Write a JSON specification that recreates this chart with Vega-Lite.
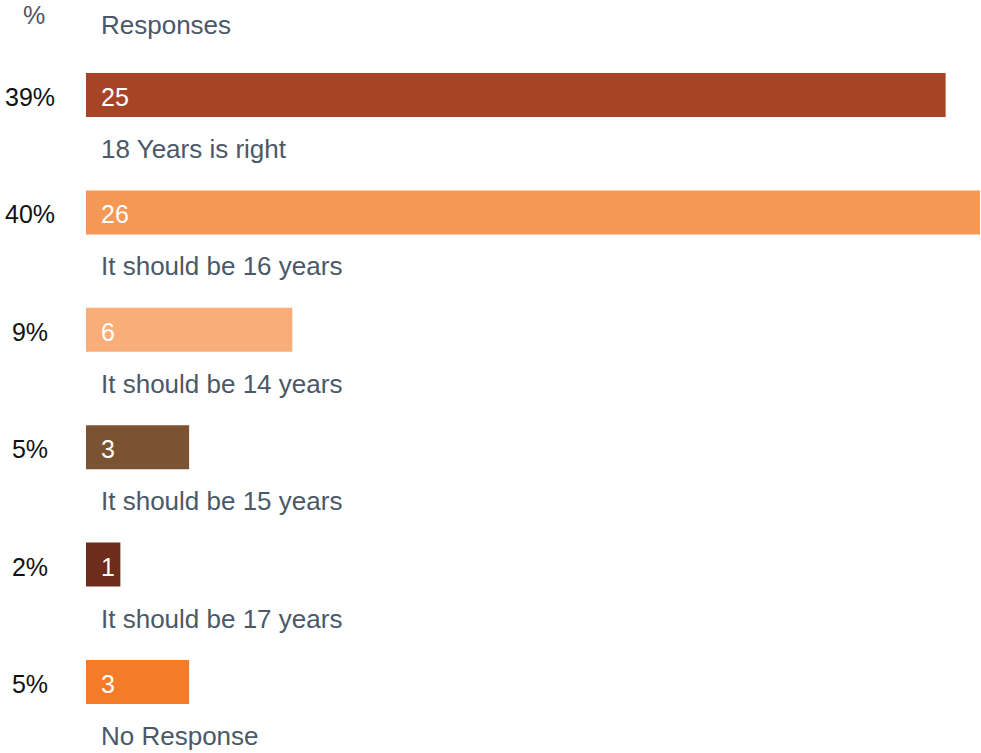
{
  "$schema": "https://vega.github.io/schema/vega-lite/v6.json",
  "width": 981,
  "height": 753,
  "autosize": "none",
  "padding": 0,
  "background": "white",
  "config": {"view": {"stroke": null}, "text": {"font": "Liberation Sans"}},
  "data": {
    "values": [
      {"answer": "18 Years is right", "count": 25, "pct": "39%"},
      {"answer": "It should be 16 years", "count": 26, "pct": "40%"},
      {"answer": "It should be 14 years", "count": 6, "pct": "9%"},
      {"answer": "It should be 15 years", "count": 3, "pct": "5%"},
      {"answer": "It should be 17 years", "count": 1, "pct": "2%"},
      {"answer": "No Response", "count": 3, "pct": "5%"}
    ]
  },
  "encoding": {
    "y": {
      "field": "answer", "type": "nominal",
      "sort": ["18 Years is right", "It should be 16 years", "It should be 14 years", "It should be 15 years", "It should be 17 years", "No Response"],
      "scale": {"range": [36.3, 740.7], "paddingInner": 0, "paddingOuter": 0},
      "axis": null
    }
  },
  "layer": [
    {
      "mark": {"type": "bar", "height": 44},
      "encoding": {
        "x": {"field": "count", "type": "quantitative", "scale": {"domain": [0, 26], "range": [86, 980]}, "axis": null},
        "color": {
          "field": "answer", "type": "nominal",
          "scale": {
            "domain": ["18 Years is right", "It should be 16 years", "It should be 14 years", "It should be 15 years", "It should be 17 years", "No Response"],
            "range": ["#A84426", "#F59755", "#F9AE7A", "#7B5232", "#6E2C1A", "#F47B29"]
          },
          "legend": null
        }
      }
    },
    {
      "mark": {"type": "text", "align": "left", "baseline": "middle", "dx": 15, "dy": 3, "fontSize": 25, "color": "white"},
      "encoding": {"x": {"datum": 0}, "text": {"field": "count"}}
    },
    {
      "mark": {"type": "text", "align": "center", "baseline": "middle", "dx": -56, "dy": 3, "fontSize": 25, "color": "#111111"},
      "encoding": {"x": {"datum": 0}, "text": {"field": "pct"}}
    },
    {
      "mark": {"type": "text", "align": "left", "baseline": "middle", "dx": 15, "dy": 55, "fontSize": 26, "color": "#4A5868"},
      "encoding": {"x": {"datum": 0}, "text": {"field": "answer"}}
    },
    {
      "data": {"values": [{"h": "Responses"}]},
      "mark": {"type": "text", "align": "left", "baseline": "middle", "dx": 15, "dy": -69, "fontSize": 26, "color": "#4A5868"},
      "encoding": {"x": {"datum": 0}, "y": {"datum": "18 Years is right"}, "text": {"field": "h"}}
    },
    {
      "data": {"values": [{"h": "%"}]},
      "mark": {"type": "text", "align": "center", "baseline": "middle", "dx": -52, "dy": -79, "fontSize": 25, "color": "#4A5868"},
      "encoding": {"x": {"datum": 0}, "y": {"datum": "18 Years is right"}, "text": {"field": "h"}}
    }
  ]
}
